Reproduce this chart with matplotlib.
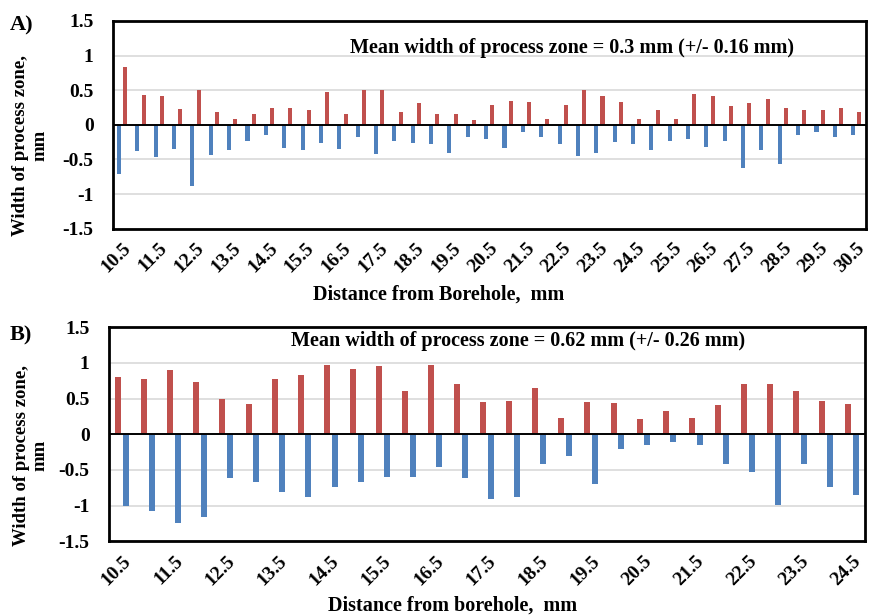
import numpy as np
import matplotlib.pyplot as plt

# Panel A: 10.5 .. 30.5 mm, step 0.5
dist_a = [10.5 + 0.5 * i for i in range(41)]
upper_a = [0.84, 0.43, 0.42, 0.23, 0.51, 0.18, 0.08, 0.15, 0.25, 0.25,
           0.21, 0.48, 0.15, 0.50, 0.50, 0.19, 0.32, 0.15, 0.15, 0.07,
           0.28, 0.35, 0.33, 0.08, 0.29, 0.51, 0.41, 0.33, 0.08, 0.22,
           0.08, 0.45, 0.41, 0.27, 0.32, 0.38, 0.25, 0.22, 0.22, 0.24, 0.18]
lower_a = [-0.71, -0.38, -0.46, -0.35, -0.88, -0.44, -0.36, -0.24, -0.15, -0.34,
           -0.37, -0.26, -0.35, -0.17, -0.42, -0.24, -0.26, -0.28, -0.41, -0.17,
           -0.21, -0.34, -0.10, -0.18, -0.28, -0.45, -0.40, -0.25, -0.28, -0.37,
           -0.23, -0.21, -0.32, -0.24, -0.62, -0.37, -0.56, -0.14, -0.10, -0.17, -0.14]

# Panel B: 10.5 .. 24.5 mm, step 0.5
dist_b = [10.5 + 0.5 * i for i in range(29)]
upper_b = [0.80, 0.78, 0.90, 0.73, 0.49, 0.43, 0.78, 0.83, 0.97, 0.92,
           0.96, 0.60, 0.97, 0.70, 0.45, 0.47, 0.65, 0.23, 0.45, 0.44,
           0.21, 0.33, 0.22, 0.41, 0.70, 0.71, 0.60, 0.47, 0.42]
lower_b = [-1.01, -1.07, -1.25, -1.16, -0.62, -0.67, -0.81, -0.88, -0.74, -0.67,
           -0.60, -0.60, -0.46, -0.62, -0.91, -0.88, -0.42, -0.31, -0.70, -0.21,
           -0.15, -0.11, -0.15, -0.42, -0.53, -0.99, -0.42, -0.74, -0.85]

RED = '#C0504D'
BLUE = '#4F81BD'

plt.rcParams['font.family'] = 'Liberation Serif'
plt.rcParams['font.weight'] = 'bold'

fig = plt.figure(figsize=(8.69, 6.15), dpi=100)


def panel(rect, dist, upper, lower, red_off, blue_off, width,
          note, note_x, note_y, xlabel, xlab_x, xlab_y, ylab_x, letter, letter_y):
    ax = fig.add_axes(rect)
    x = np.arange(len(dist))
    ax.bar(x + red_off, upper, width=width, color=RED, zorder=3)
    ax.bar(x + blue_off, lower, width=width, color=BLUE, zorder=3)
    ax.axhline(0, color='black', lw=1.4, zorder=4)
    ax.set_xlim(-0.5, len(dist) - 0.5)
    ax.set_ylim(-1.5, 1.5)
    ax.set_yticks([-1.5, -1, -0.5, 0, 0.5, 1, 1.5])
    ax.set_yticklabels(['-1.5', '-1', '-0.5', '0', '0.5', '1', '1.5'],
                       fontsize=14, fontweight='bold')
    ax.yaxis.grid(True, color='#d9d9d9', lw=1.2, zorder=0)
    ax.set_xticks(x[::2])
    ax.set_xticklabels([f'{d:g}' for d in dist[::2]], rotation=45, ha='right',
                       rotation_mode='anchor', fontsize=14, fontweight='bold')
    ax.tick_params(length=0, pad=14, axis='y')
    ax.tick_params(length=0, pad=8, axis='x')
    for s in ax.spines.values():
        s.set_linewidth(2)
    ax.text(note_x, note_y, note, fontsize=14.5, fontweight='bold', ha='center', va='center')
    ax.set_xlabel(xlabel, fontsize=14.5, fontweight='bold')
    ax.xaxis.set_label_coords(xlab_x, xlab_y)
    ax.set_ylabel('Width of process zone,\nmm', fontsize=13.5, fontweight='bold',
                  linespacing=1.15)
    ax.yaxis.set_label_coords(ylab_x, 0.40)
    fig.text(0.011, letter_y, letter, fontsize=16, fontweight='bold', ha='left', va='center')
    return ax


panel([0.130, 0.628, 0.866, 0.338], dist_a, upper_a, lower_a, 0.17, -0.17, 0.22,
      'Mean width of process zone = 0.3 mm (+/- 0.16 mm)', 24.5, 1.11,
      'Distance from Borehole,  mm', 0.433, -0.27, -0.086, 'A)', 0.958)
panel([0.1255, 0.120, 0.870, 0.348], dist_b, upper_b, lower_b, -0.15, 0.15, 0.23,
      'Mean width of process zone = 0.62 mm (+/- 0.26 mm)', 15.2, 1.30,
      'Distance from borehole,  mm', 0.455, -0.252, -0.080, 'B)', 0.455)

fig.savefig('out.png', dpi=100)
